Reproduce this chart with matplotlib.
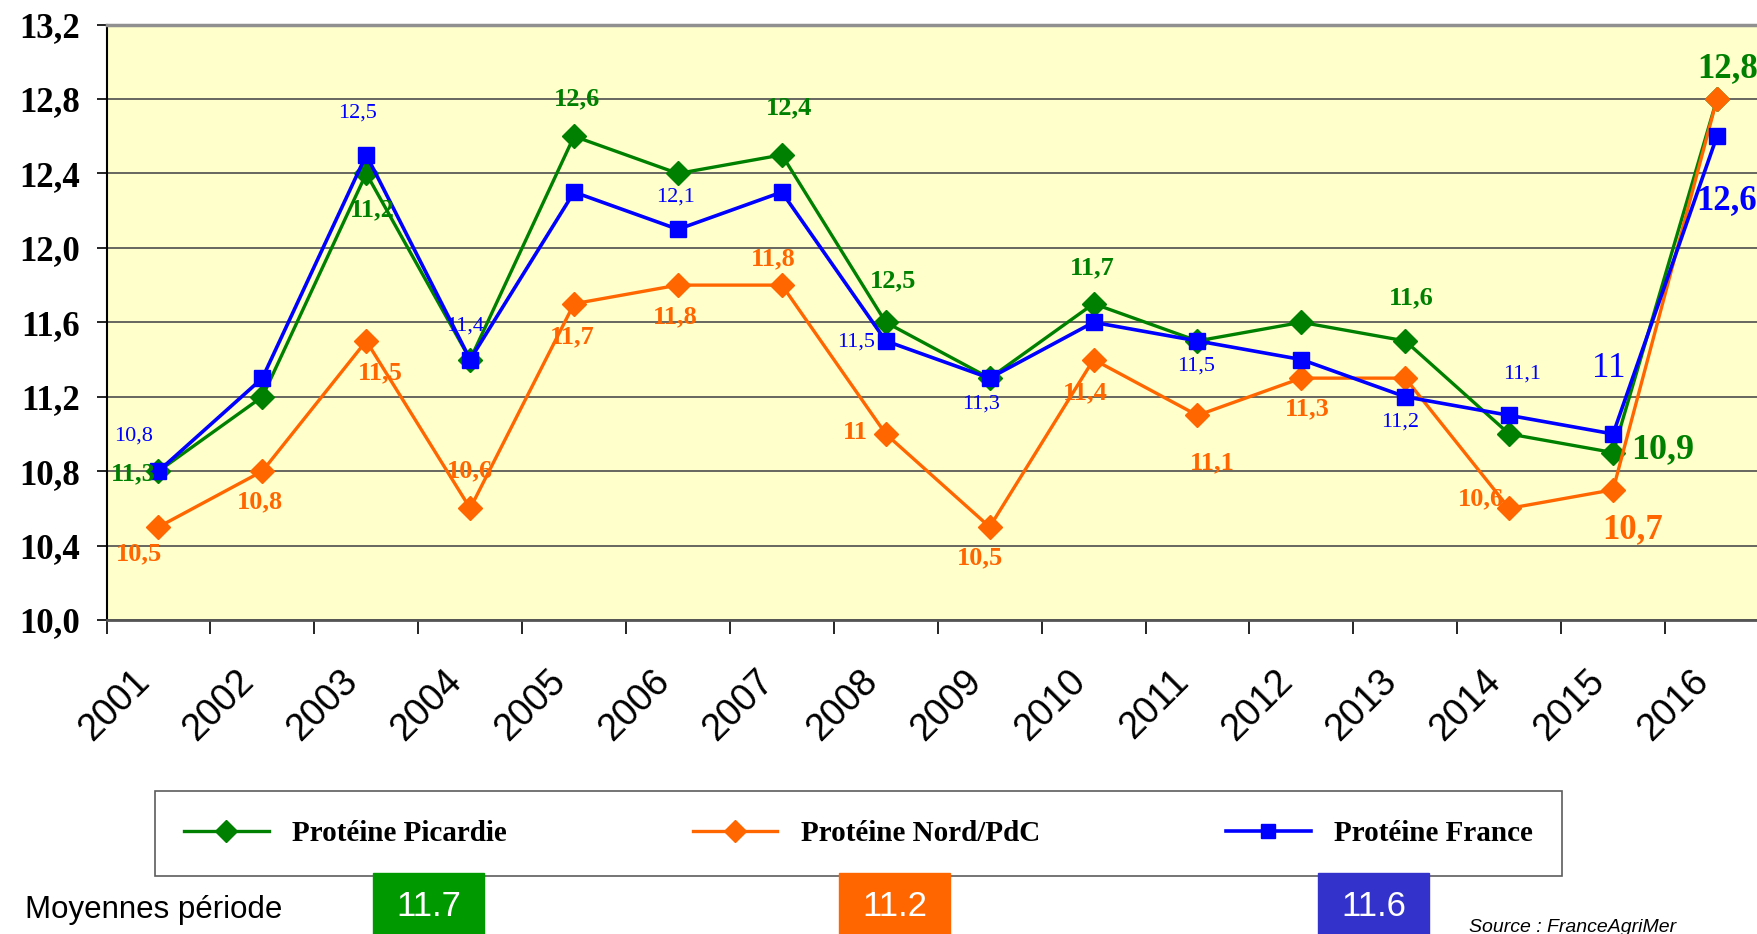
"""Protein content of wheat, Picardie / Nord-PdC / France, 2001-2016."""

import matplotlib

matplotlib.use("Agg")
import matplotlib.pyplot as plt  # noqa: E402
import numpy as np  # noqa: E402
from matplotlib.transforms import ScaledTranslation  # noqa: E402

years = [str(y) for y in range(2001, 2017)]

picardie = [10.8, 11.2, 12.4, 11.4, 12.6, 12.4, 12.5, 11.6,
            11.3, 11.7, 11.5, 11.6, 11.5, 11.0, 10.9, 12.8]
nord_pdc = [10.5, 10.8, 11.5, 10.6, 11.7, 11.8, 11.8, 11.0,
            10.5, 11.4, 11.1, 11.3, 11.3, 10.6, 10.7, 12.8]
france = [10.8, 11.3, 12.5, 11.4, 12.3, 12.1, 12.3, 11.5,
          11.3, 11.6, 11.5, 11.4, 11.2, 11.1, 11.0, 12.6]

# data labels as printed on the original chart (index into years, text)
picardie_labels = [(0, "11,3"), (2, "11,2"), (4, "12,6"), (6, "12,4"), (7, "12,5"),
                   (9, "11,7"), (12, "11,6"), (14, "10,9"), (15, "12,8")]
nord_labels = [(0, "10,5"), (1, "10,8"), (2, "11,5"), (3, "10,6"), (4, "11,7"),
               (5, "11,8"), (6, "11,8"), (7, "11"), (8, "10,5"), (9, "11,4"),
               (10, "11,1"), (11, "11,3"), (13, "10,6"), (14, "10,7")]
france_labels = [(0, "10,8"), (2, "12,5"), (3, "11,4"), (5, "12,1"), (7, "11,5"),
                 (8, "11,3"), (10, "11,5"), (12, "11,2"), (13, "11,1"), (14, "11"),
                 (15, "12,6")]

series_names = ["Protéine Picardie", "Protéine Nord/PdC", "Protéine France"]
period_means = ["11.7", "11.2", "11.6"]

yticks = np.arange(10.0, 13.21, 0.4)

GREEN = "#008000"
ORANGE = "#FF6600"
BLUE = "#0000FF"

# label offsets in points (dx, dy), font size, weight - same order as the label lists
pic_layout = [(-18, -2, 19, "bold"), (4, -26, 19, "bold"), (2, 27, 19, "bold"),
              (5, 34, 19, "bold"), (5, 30, 19, "bold"), (-1, 26, 19, "bold"),
              (4, 31, 19, "bold"), (36, 2, 26, "bold"), (8, 22, 25, "bold")]
nord_layout = [(-14, -19, 19, "bold"), (-2, -22, 19, "bold"), (10, -23, 19, "bold"),
               (0, 27, 19, "bold"), (-1, -24, 19, "bold"), (-2, -23, 19, "bold"),
               (-6, 19, 19, "bold"), (-22, 1, 19, "bold"), (-7, -22, 19, "bold"),
               (-6, -24, 19, "bold"), (11, -34, 19, "bold"), (4, -22, 19, "bold"),
               (-20, 7, 19, "bold"), (14, -29, 25, "bold")]
fra_layout = [(-18, 25, 16, "normal"), (-6, 30, 16, "normal"), (-4, 24, 16, "normal"),
              (-2, 23, 16, "normal"), (-21, -1, 16, "normal"), (-6, -19, 16, "normal"),
              (-1, -18, 16, "normal"), (-4, -18, 16, "normal"), (9, 30, 16, "normal"),
              (-3, 47, 25, "normal"), (7, -46, 25, "bold")]

fig = plt.figure(figsize=(17.58, 9.34), dpi=100)
ax = fig.add_axes([0.0606, 0.3362, 0.9456, 0.6374])
ax.set_facecolor("#FFFFCC")

x = np.arange(len(years))
ax.plot(x, picardie, color=GREEN, lw=2.4, marker="D", ms=12, zorder=3,
        label=series_names[0])
ax.plot(x, nord_pdc, color=ORANGE, lw=2.4, marker="D", ms=12, zorder=4,
        label=series_names[1])
ax.plot(x, france, color=BLUE, lw=2.6, marker="s", ms=11, zorder=5,
        label=series_names[2])


def put_labels(values, labels, layout, color):
    for (i, txt), (dx, dy, size, weight) in zip(labels, layout):
        ax.annotate(txt, (i, values[i]), xytext=(dx, dy), textcoords="offset points",
                    ha="center", va="center", color=color, fontsize=size,
                    fontweight=weight, family="Liberation Serif", zorder=6)


put_labels(picardie, picardie_labels, pic_layout, GREEN)
put_labels(nord_pdc, nord_labels, nord_layout, ORANGE)
put_labels(france, france_labels, fra_layout, BLUE)

ax.set_xlim(-0.5, len(years) - 0.5)
ax.set_ylim(10.0, 13.2)

ax.set_yticks(yticks)
ax.set_yticklabels([f"{v:.1f}".replace(".", ",") for v in yticks],
                   family="Liberation Serif", fontweight="bold", fontsize=25)
ax.tick_params(axis="y", direction="out", length=7, width=1.2, pad=12)
ax.yaxis.grid(True, color="#4d4d4d", lw=1.2)
ax.set_axisbelow(True)

# tick marks between categories, year labels centred under each point
ax.set_xticks(np.arange(-0.5, len(years), 1))
ax.set_xticklabels([])
ax.set_xticks(x, minor=True)
ax.set_xticklabels(years, minor=True, rotation=45, ha="right", va="center",
                   rotation_mode="anchor", family="Liberation Sans", fontsize=27)
ax.tick_params(axis="x", which="major", direction="out", length=10, width=1.2)
ax.tick_params(axis="x", which="minor", length=0, pad=40)
shift = ScaledTranslation(-10 / 72, 0, fig.dpi_scale_trans)
for lab in ax.get_xticklabels(minor=True):
    lab.set_transform(lab.get_transform() + shift)

ax.spines["left"].set_color("black")
ax.spines["left"].set_linewidth(1.5)
ax.spines["bottom"].set_color("#555555")
ax.spines["bottom"].set_linewidth(2)
ax.spines["top"].set_color("#909090")
ax.spines["top"].set_linewidth(2.5)
ax.spines["right"].set_visible(False)

leg = fig.legend(loc="lower left", bbox_to_anchor=(155 / 1758, 1 - 876 / 934,
                                                    1407 / 1758, 88 / 934),
                 mode="expand", ncol=3, frameon=True, fancybox=False,
                 edgecolor="#333333", handlelength=2.9, borderpad=1.0,
                 borderaxespad=0, markerscale=0.9,
                 prop={"family": "Liberation Serif", "weight": "bold", "size": 21})
leg.get_frame().set_linewidth(1.2)

fig.text(25 / 1758, 1 - 910 / 934, "Moyennes période", family="Liberation Sans",
         fontsize=22.5, ha="left", va="center")

# period averages, boxes sit on top of the legend frame as in the original
box_colors = ["#009900", "#FF6600", "#3333CC"]
box_left = [373, 839, 1318]
for val, col, left in zip(period_means, box_colors, box_left):
    fig.patches.append(plt.Rectangle((left / 1758, 0), 111 / 1758, 61 / 934,
                                     transform=fig.transFigure, color=col, zorder=8))
    fig.text((left + 55.5) / 1758, 1 - 906 / 934, val, color="white",
             family="Liberation Sans", fontsize=25, ha="center", va="center", zorder=9)

fig.text(1469 / 1758, 1 - 928 / 934, "Source : FranceAgriMer", family="Liberation Sans",
         style="italic", fontsize=14, ha="left", va="center")

fig.savefig("out.png", dpi=100)
